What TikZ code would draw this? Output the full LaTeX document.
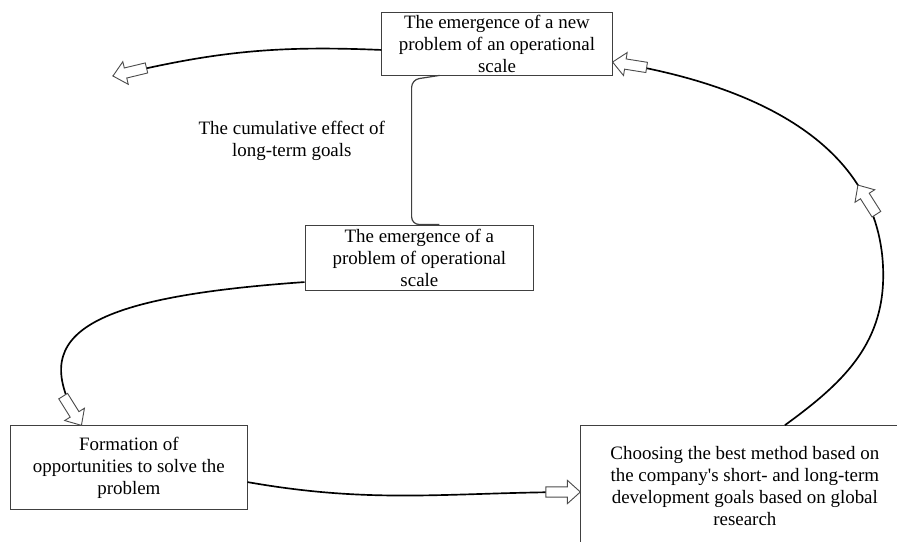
\documentclass[tikz,border=0pt]{standalone}
\usepackage{fontspec}
\setmainfont{Liberation Serif}[Ligatures = TeXOff]
\usetikzlibrary{positioning, decorations.markings}

% hollow block arrow head, drawn with its tip at the origin, pointing along +x
\newcommand{\blockhead}{\filldraw[draw = black!70, fill = white, line width = 0.6pt, line join = miter] (0, 0) -- (-0.3, 0.27) -- (-0.3, 0.12) -- (-0.8, 0.12) -- (-0.8, -0.12) -- (-0.3, -0.12) -- (-0.3, -0.27) -- cycle;}

\begin{document}
\begin{tikzpicture}
    \tikzstyle{box} = [rectangle, draw = black!75, line width = 0.6pt, align = center, inner sep = 1pt, font = \fontsize{12.5}{14.5}\selectfont]
    \tikzstyle{note} = [align = center, font = \fontsize{12.5}{14.5}\selectfont]
    \tikzstyle{link} = [line width = 1.1pt]
    \tikzstyle{endtip} = [postaction = {decorate, decoration = {markings, mark = at position 0.9999 with {\blockhead}}}]
    \tikzstyle{bothtips} = [postaction = {decorate, decoration = {markings, mark = at position 0.5 with {\blockhead}, mark = at position 0.9999 with {\blockhead}}}]

    \useasboundingbox (0, 0) rectangle (20.81, 12.574);

    \node[box, minimum width = 5.34cm, minimum height = 1.46cm](new) at (11.53, 11.565){The emergence of a new\\problem of an operational\\scale};
    \node[box, minimum width = 5.31cm, minimum height = 1.51cm, below of = new, xshift = -1.8cm, yshift = -3.965cm](mid){The emergence of a\\problem of operational\\scale};
    \node[box, minimum width = 5.48cm, minimum height = 1.93cm, below of = mid, xshift = -6.74cm, yshift = -3.87cm](form){Formation of\\opportunities to solve the\\problem};
    \node[box, minimum width = 7.61cm, minimum height = 2.8cm, right of = form, xshift = 13.29cm, yshift = -0.43cm](choose){Choosing the best method based on\\the company's short- and long-term\\development goals based on global\\research};
    \node[note](cumul) at (6.77, 9.30){The cumulative effect of\\long-term goals};

    \coordinate (lost) at (2.62, 10.81);
    \coordinate (bulge) at (20.49, 6.19);

    \draw[link, endtip]([yshift = -0.15cm]new.west) to[bend right = 8] (lost);
    \draw[line width = 0.8pt, black!75, rounded corners = 5pt]([xshift = 1.35cm]new.south west) -- ([xshift = 0.7cm, yshift = -0.1cm]new.south west) |- ([xshift = 3.13cm]mid.north west);
    \draw[link, endtip]([yshift = -0.57cm]mid.west) .. controls +(184:5.3) and +(122:2.4) .. ([xshift = 1.65cm]form.north west);
    \draw[link, endtip]([yshift = -0.34cm]form.east) to[out = -10, in = 180] ([yshift = -0.14cm]choose.west);
    \draw[link, bothtips]([xshift = 0.93cm]choose.north) to[out = 36, in = -90] (bulge) to[out = 90, in = -9] ([yshift = -0.43cm]new.east);

    \end{tikzpicture}
\end{document}
